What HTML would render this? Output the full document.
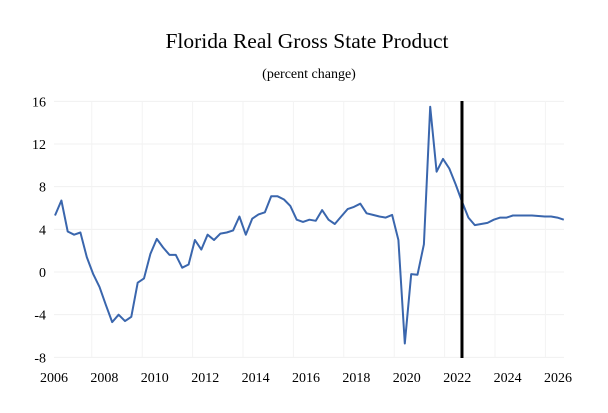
<!DOCTYPE html>
<html><head><meta charset="utf-8"><style>
body{margin:0;background:#fff;}
svg text{font-family:"Liberation Serif",serif;fill:#000;}
</style></head><body>
<svg width="608" height="408" viewBox="0 0 608 408">
<text x="307" y="48" text-anchor="middle" font-size="21.5">Florida Real Gross State Product</text>
<text x="309" y="78" text-anchor="middle" font-size="14">(percent change)</text>
<g id="grid"></g><g id="axes"></g><g id="series"></g>
</svg>
<script>
const yTicks=[16,12,8,4,0,-4,-8];
const xTicks=[2006,2008,2010,2012,2014,2016,2018,2020,2022,2024,2026];
const startYear=2006;
const values=[5.3,6.7,3.8,3.5,3.7,1.4,-0.2,-1.4,-3.1,-4.7,-4.0,-4.6,-4.2,-1.0,-0.6,1.7,3.1,2.3,1.6,1.6,0.4,0.7,3.0,2.1,3.5,3.0,3.6,3.7,3.9,5.2,3.5,5.0,5.4,5.6,7.1,7.1,6.8,6.2,4.9,4.7,4.9,4.8,
5.8,4.9,4.5,5.2,5.9,6.1,6.4,5.5,5.35,5.2,5.1,5.35,3.0,-6.7,-0.2,-0.25,2.6,15.5,9.4,10.6,9.7,8.2,6.6,5.1,4.4,4.5,4.6,4.9,5.1,5.1,5.3,5.3,5.3,5.3,5.25,5.2,5.2,5.1,4.9];
const forecastStart=2022.17;
const NS="http://www.w3.org/2000/svg";
const X=t=>54+(t-2006)*25.2;
const XS=t=>55+(t-2006)*25.44;
const Y=v=>272-v*10.667;
function mk(tag,attrs,parent){const e=document.createElementNS(NS,tag);for(const k in attrs)e.setAttribute(k,attrs[k]);parent.appendChild(e);return e;}
const grid=document.getElementById('grid'),axes=document.getElementById('axes'),series=document.getElementById('series');
yTicks.forEach(v=>{
 const l=mk('line',{x1:54,x2:564,y1:Y(v),y2:Y(v),stroke:'#f0f0f0','stroke-width':1},grid);
 
 
 const t=mk('text',{x:46,y:Y(v)+5,'text-anchor':'end','font-size':14},axes);
 t.textContent=v;
 
 
});
xTicks.forEach(v=>{
 if(X(v)+37.8<566){
 const l=mk('line',{x1:X(v)+37.8,x2:X(v)+37.8,y1:101,y2:357,stroke:'#f3f3f3','stroke-width':1},grid);
 
 
 }
 const t=mk('text',{x:X(v),y:382,'text-anchor':'middle','font-size':14},axes);
 t.textContent=v;
 
 
});
const pts=values.map((v,i)=>XS(startYear+i*0.25).toFixed(1)+','+Y(v).toFixed(1)).join(' ');
const pl=mk('polyline',{points:pts,fill:'none',stroke:'#3a66ad','stroke-width':2,'stroke-linejoin':'round'},series);


const fl=mk('line',{x1:X(forecastStart)+0.5,x2:X(forecastStart)+0.5,y1:101,y2:358,stroke:'#000','stroke-width':3},series);


</script>
</body></html>
